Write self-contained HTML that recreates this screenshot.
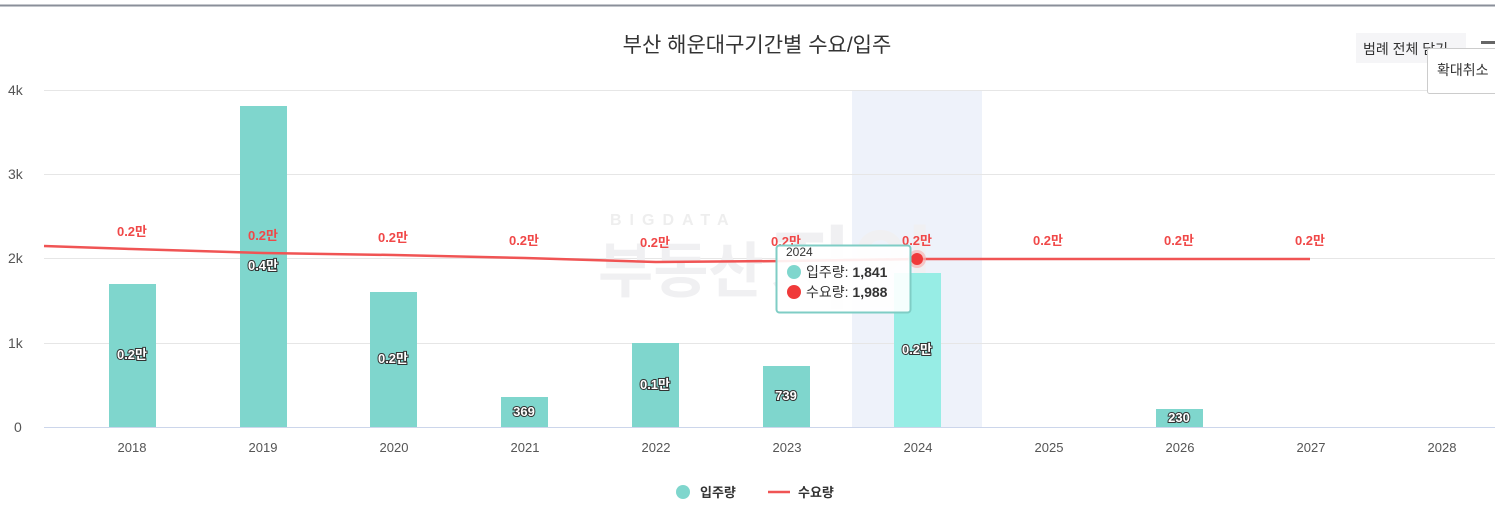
<!DOCTYPE html>
<html><head><meta charset="utf-8"><style>
body{margin:0;width:1495px;height:507px;overflow:hidden;background:#fff;font-family:"Liberation Sans","Noto Sans CJK KR",sans-serif}
</style></head><body>
<svg width="1495" height="507" xmlns="http://www.w3.org/2000/svg" font-family="Liberation Sans, Noto Sans CJK KR, sans-serif">
<line x1="0" y1="5.5" x2="1495" y2="5.5" stroke="#8a8f99" stroke-width="2"/>
<text x="757" y="52" text-anchor="middle" font-size="21" fill="#333">부산 해운대구기간별 수요/입주</text>
<rect x="852" y="90" width="130" height="337" fill="#eef2fa"/>
<g stroke="#e6e6e6" stroke-width="1">
<line x1="44" y1="90.5" x2="1495" y2="90.5"/><line x1="44" y1="174.5" x2="1495" y2="174.5"/>
<line x1="44" y1="258.5" x2="1495" y2="258.5"/><line x1="44" y1="343.5" x2="1495" y2="343.5"/>
</g>
<line x1="44" y1="427.5" x2="1495" y2="427.5" stroke="#ccd6eb"/>
<g font-size="14" fill="#555"><text x="8" y="95">4k</text><text x="8" y="179">3k</text><text x="8" y="263">2k</text><text x="8" y="348">1k</text><text x="14" y="432">0</text></g>
<g font-size="20" fill="#f0f0f2" font-weight="bold"><text x="610" y="225" font-size="16" letter-spacing="8" fill="#eeeeee">BIGDATA</text><text x="598" y="292" font-size="60">부동산</text><text x="770" y="300" font-size="90">지인</text></g>
<g fill="#7fd6cd">
<rect x="109" y="284" width="47" height="143"/><rect x="240" y="106" width="47" height="321"/>
<rect x="370" y="292" width="47" height="135"/><rect x="501" y="397" width="47" height="30"/>
<rect x="632" y="343" width="47" height="84"/><rect x="763" y="366" width="47" height="61"/>
<rect x="894" y="273" width="47" height="154" fill="#97ede5"/><rect x="1156" y="409" width="47" height="18"/>
</g>
<polyline fill="none" stroke="#f05454" stroke-width="2.5" points="44,246 132,249 263,253 394,255 525,258 656,262 787,261 918,259 1049,259 1180,259 1310,259"/>
<circle cx="917" cy="259" r="9" fill="#f8b4b4" opacity="0.7"/><circle cx="917" cy="259" r="6" fill="#f03a3a"/>
<g font-size="13" font-weight="bold" fill="#f04848" text-anchor="middle">
<text x="132" y="236">0.2만</text><text x="263" y="240">0.2만</text><text x="393" y="242">0.2만</text><text x="524" y="245">0.2만</text><text x="655" y="247">0.2만</text><text x="786" y="246">0.2만</text><text x="917" y="245">0.2만</text><text x="1048" y="245">0.2만</text><text x="1179" y="245">0.2만</text><text x="1310" y="245">0.2만</text>
</g>
<g font-size="13" font-weight="bold" fill="#fff" stroke="#333" stroke-width="2" paint-order="stroke" text-anchor="middle">
<text x="132" y="359">0.2만</text><text x="263" y="270">0.4만</text><text x="393" y="363">0.2만</text><text x="524" y="416">369</text><text x="655" y="389">0.1만</text><text x="786" y="400">739</text><text x="917" y="354">0.2만</text><text x="1179" y="422">230</text>
</g>
<g font-size="13" fill="#555" text-anchor="middle">
<text x="132" y="452">2018</text><text x="263" y="452">2019</text><text x="394" y="452">2020</text><text x="525" y="452">2021</text><text x="656" y="452">2022</text><text x="787" y="452">2023</text><text x="918" y="452">2024</text><text x="1049" y="452">2025</text><text x="1180" y="452">2026</text><text x="1311" y="452">2027</text><text x="1442" y="452">2028</text>
</g>
<rect x="776.5" y="245.5" width="134" height="67" rx="3" fill="#fff" fill-opacity="0.9" stroke="#7fcdc5" stroke-width="2"/>
<text x="786" y="256" font-size="12" fill="#333">2024</text>
<circle cx="794" cy="272" r="7" fill="#7fd6cd"/><text x="806" y="277" font-size="14" fill="#333">입주량: <tspan font-weight="bold">1,841</tspan></text>
<circle cx="794" cy="292" r="7" fill="#f03a3a"/><text x="806" y="297" font-size="14" fill="#333">수요량: <tspan font-weight="bold">1,988</tspan></text>
<rect x="1356" y="33" width="110" height="30" fill="#f5f5f7"/>
<text x="1363" y="54" font-size="14" fill="#333">범례 전체 닫기</text>
<rect x="1481" y="41" width="14" height="3" fill="#666"/>
<rect x="1427.5" y="48.5" width="72" height="45" rx="2" fill="#fff" stroke="#ccc"/>
<text x="1437" y="75" font-size="14" fill="#333">확대취소</text>
<circle cx="683" cy="492" r="7" fill="#7fd6cd"/><text x="700" y="497" font-size="13" font-weight="bold" fill="#333">입주량</text>
<line x1="768" y1="492" x2="790" y2="492" stroke="#f05454" stroke-width="2.5"/><text x="798" y="497" font-size="13" font-weight="bold" fill="#333">수요량</text>
</svg>
</body></html>
